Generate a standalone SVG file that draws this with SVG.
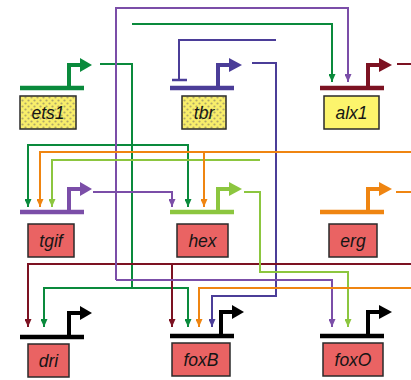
<svg xmlns="http://www.w3.org/2000/svg" width="411" height="380" viewBox="0 0 411 380">
<defs>
<style>
.c{fill:none;stroke-width:2}
.bar{fill:none;stroke-width:4.5}
.pr{fill:none;stroke-width:4}
.box{stroke:#2a2a2a;stroke-width:1.5}
.red{fill:#ea6363}
.yel{fill:#fcf46c}
.dot{fill:url(#dots)}
.lbl{font-family:"Liberation Sans",Arial,sans-serif;font-style:italic;font-size:17.5px;fill:#151515;text-anchor:middle}
.g{stroke:#0a8a3c}.gf{fill:#0a8a3c}
.p{stroke:#7b4ea8}.pf{fill:#7b4ea8}
.b{stroke:#4b3d98}.bf{fill:#4b3d98}
.r{stroke:#7c1222}.rf{fill:#7c1222}
.lg{stroke:#8cc63f}.lgf{fill:#8cc63f}
.o{stroke:#ef8511}.of{fill:#ef8511}
.k{stroke:#000}.kf{fill:#000}
</style>
<pattern id="dots" width="6" height="6" patternUnits="userSpaceOnUse">
<rect width="6" height="6" fill="#f8ee6a"/>
<circle cx="1.5" cy="1.5" r="1.1" fill="#b0a868"/>
<circle cx="4.5" cy="4.5" r="1.1" fill="#b0a868"/>
</pattern>
<marker id="ag" viewBox="0 0 8 7" refX="8" refY="3.5" markerWidth="8" markerHeight="7" markerUnits="userSpaceOnUse" orient="auto"><path d="M0,0 L8,3.5 L0,7 z" fill="#0a8a3c"/></marker>
<marker id="ap" viewBox="0 0 8 7" refX="8" refY="3.5" markerWidth="8" markerHeight="7" markerUnits="userSpaceOnUse" orient="auto"><path d="M0,0 L8,3.5 L0,7 z" fill="#7b4ea8"/></marker>
<marker id="ab" viewBox="0 0 8 7" refX="8" refY="3.5" markerWidth="8" markerHeight="7" markerUnits="userSpaceOnUse" orient="auto"><path d="M0,0 L8,3.5 L0,7 z" fill="#4b3d98"/></marker>
<marker id="ar" viewBox="0 0 8 7" refX="8" refY="3.5" markerWidth="8" markerHeight="7" markerUnits="userSpaceOnUse" orient="auto"><path d="M0,0 L8,3.5 L0,7 z" fill="#7c1222"/></marker>
<marker id="alg" viewBox="0 0 8 7" refX="8" refY="3.5" markerWidth="8" markerHeight="7" markerUnits="userSpaceOnUse" orient="auto"><path d="M0,0 L8,3.5 L0,7 z" fill="#8cc63f"/></marker>
<marker id="ao" viewBox="0 0 8 7" refX="8" refY="3.5" markerWidth="8" markerHeight="7" markerUnits="userSpaceOnUse" orient="auto"><path d="M0,0 L8,3.5 L0,7 z" fill="#ef8511"/></marker>
</defs>
<rect width="411" height="380" fill="#fff"/>

<g id="connectors">
<!-- ets1 (green) -->
<path class="c g" d="M100,64 H132 V288"/>
<path class="c g" d="M132,24 H332 V82" marker-end="url(#ag)"/>
<path class="c g" d="M132,145 H28 V207" marker-end="url(#ag)"/>
<path class="c g" d="M132,145 H188 V207" marker-end="url(#ag)"/>
<path class="c g" d="M132,288 H44 V327" marker-end="url(#ag)"/>
<path class="c g" d="M132,288 H188 V327" marker-end="url(#ag)"/>
<!-- tbr (blue-violet) -->
<path class="c b" d="M252,63 H276 V296 H212 V327" marker-end="url(#ab)"/>
<path class="c b" d="M276,40 H179 V80"/>
<path class="b" d="M172,80 H187" stroke-width="2.5" fill="none"/>
<!-- alx1 (dark red) -->
<path class="c r" d="M397,64 H411"/>
<path class="c r" d="M411,264 H28 V327" marker-end="url(#ar)"/>
<path class="c r" d="M172,264 V327" marker-end="url(#ar)"/>
<!-- tgif (purple) -->
<path class="c p" d="M93,192 H172 V207" marker-end="url(#ap)"/>
<path class="c p" d="M116,280 V8 H348 V82" marker-end="url(#ap)"/>
<path class="c p" d="M116,280 H332 V327" marker-end="url(#ap)"/>
<!-- hex (light green) -->
<path class="c lg" d="M244,192 H260 V272 H348 V327" marker-end="url(#alg)"/>
<path class="c lg" d="M260,160 H52 V207" marker-end="url(#alg)"/>
<!-- erg (orange) -->
<path class="c o" d="M396,192 H411"/>
<path class="c o" d="M411,152 H40 V207" marker-end="url(#ao)"/>
<path class="c o" d="M204,152 V207" marker-end="url(#ao)"/>
<path class="c o" d="M411,288 H199 V327" marker-end="url(#ao)"/>
</g>

<g id="ets1">
<path class="bar g" d="M20,88 H84"/>
<path class="pr g" d="M69,88 V65 H82"/>
<path class="gf" d="M80,58 L92,65 L80,72 z"/>
<rect class="box dot" x="20" y="96" width="56" height="33"/>
<text class="lbl" x="48" y="119">ets1</text>
</g>

<g id="tbr">
<path class="bar b" d="M170,88 H234"/>
<path class="pr b" d="M218,88 V65 H231"/>
<path class="bf" d="M229,58 L242,65 L229,72 z"/>
<rect class="box dot" x="182" y="96" width="44" height="33"/>
<text class="lbl" x="204" y="119">tbr</text>
</g>

<g id="alx1">
<path class="bar r" d="M320,88 H384"/>
<path class="pr r" d="M368,88 V65 H381"/>
<path class="rf" d="M379,58 L392,65 L379,72 z"/>
<rect class="box yel" x="324" y="96" width="55" height="33"/>
<text class="lbl" x="351.5" y="119">alx1</text>
</g>

<g id="tgif">
<path class="bar p" d="M20,212 H84"/>
<path class="pr p" d="M69,212 V189 H82"/>
<path class="pf" d="M80,182 L92,189 L80,196 z"/>
<rect class="box red" x="28" y="224" width="46" height="33"/>
<text class="lbl" x="51" y="247">tgif</text>
</g>

<g id="hex">
<path class="bar lg" d="M170,212 H234"/>
<path class="pr lg" d="M218,212 V189 H231"/>
<path class="lgf" d="M229,182 L242,189 L229,196 z"/>
<rect class="box red" x="177" y="224" width="51" height="33"/>
<text class="lbl" x="202.5" y="247">hex</text>
</g>

<g id="erg">
<path class="bar o" d="M320,212 H384"/>
<path class="pr o" d="M368,212 V189 H381"/>
<path class="of" d="M379,182 L392,189 L379,196 z"/>
<rect class="box red" x="329" y="224" width="48" height="33"/>
<text class="lbl" x="353" y="247">erg</text>
</g>

<g id="dri">
<path class="bar k" d="M20,337 H84"/>
<path class="pr k" d="M69,337 V313 H82"/>
<path class="kf" d="M80,306 L92,313 L80,320 z"/>
<rect class="box red" x="28" y="344" width="41" height="33"/>
<text class="lbl" x="48.5" y="367">dri</text>
</g>

<g id="foxB">
<path class="bar k" d="M170,336 H234"/>
<path class="pr k" d="M221,336 V312 H234"/>
<path class="kf" d="M232,305 L244,312 L232,319 z"/>
<rect class="box red" x="172" y="343" width="58" height="33"/>
<text class="lbl" x="201" y="366">foxB</text>
</g>

<g id="foxO">
<path class="bar k" d="M320,336 H384"/>
<path class="pr k" d="M368,336 V312 H381"/>
<path class="kf" d="M379,305 L392,312 L379,319 z"/>
<rect class="box red" x="323" y="343" width="60" height="33"/>
<text class="lbl" x="353" y="366">foxO</text>
</g>
</svg>
